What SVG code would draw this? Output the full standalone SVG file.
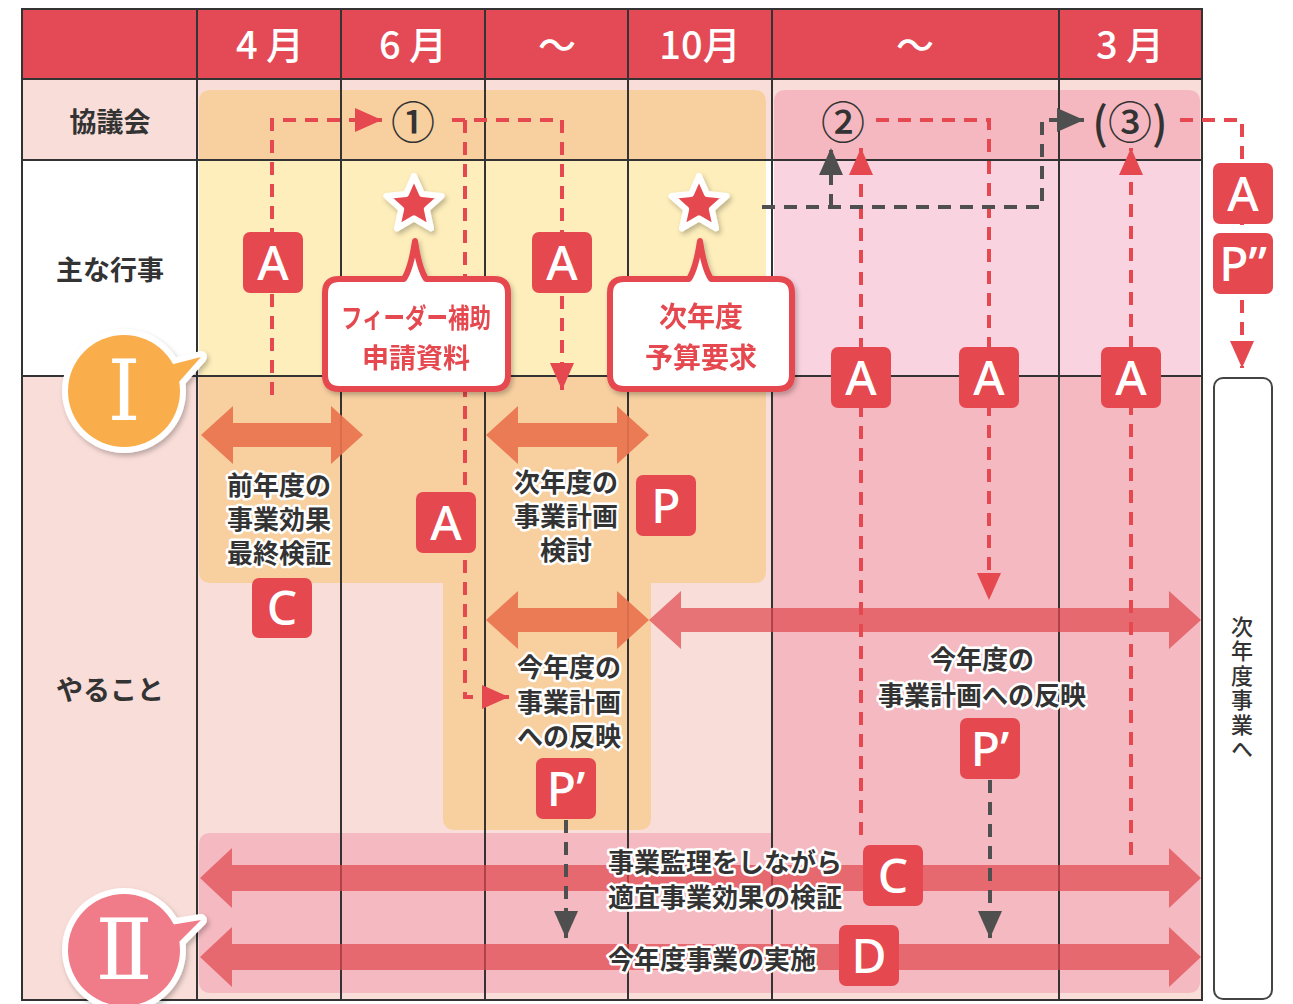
<svg xmlns="http://www.w3.org/2000/svg" width="1293" height="1004" viewBox="0 0 1293 1004">
<defs>
<style>
.hd{font-family:"Noto Sans CJK JP",sans-serif;font-weight:500;font-size:38px;fill:#fff;text-anchor:middle;dominant-baseline:central}
.rl{font-family:"Noto Sans CJK JP",sans-serif;font-weight:700;font-size:27px;fill:#333;text-anchor:middle;dominant-baseline:central}
.num{font-family:"Noto Sans CJK JP",sans-serif;font-weight:500;font-size:44px;fill:#333;text-anchor:middle;dominant-baseline:central}
.ht{font-family:"Noto Sans CJK JP",sans-serif;font-weight:700;font-size:26px;fill:#333;stroke:#fff;stroke-width:5;paint-order:stroke;stroke-linejoin:round;text-anchor:middle;dominant-baseline:central}
.ct{font-family:"Noto Sans CJK JP",sans-serif;font-weight:700;font-size:27px;fill:#e5484f;text-anchor:middle;dominant-baseline:central}
.lb{fill:#e5484f}
.lt{font-family:"Noto Sans",sans-serif;font-weight:500;font-size:48px;fill:#fff;text-anchor:middle}
.grid{stroke:#333;stroke-width:2;fill:none}
.dr{stroke:#e5484f;stroke-width:4;stroke-dasharray:13 9;fill:none}
.dg{stroke:#4f4f4f;stroke-width:4;stroke-dasharray:13 9;fill:none}
.oa{fill:#e8734e;opacity:0.92}
.ra{fill:#e04a50;opacity:0.72}
.co{fill:#fff;stroke:#e5484f;stroke-width:6;stroke-linejoin:round}
.vt{font-family:"Noto Sans CJK JP",sans-serif;font-weight:500;font-size:22px;fill:#333;text-anchor:middle;writing-mode:vertical-rl;letter-spacing:2.5px}
.rom{font-family:"DejaVu Serif","Liberation Serif",serif;font-size:84px;fill:#fff;text-anchor:middle;dominant-baseline:central}
</style>
<marker id="mr" markerUnits="userSpaceOnUse" viewBox="0 0 27 24" markerWidth="27" markerHeight="24" refX="27" refY="12" orient="auto"><path d="M0,0 L27,12 L0,24 Z" fill="#e5484f"/></marker>
<marker id="mg" markerUnits="userSpaceOnUse" viewBox="0 0 27 24" markerWidth="27" markerHeight="24" refX="27" refY="12" orient="auto"><path d="M0,0 L27,12 L0,24 Z" fill="#4f4f4f"/></marker>
<filter id="sh" x="-20%" y="-20%" width="150%" height="150%"><feDropShadow dx="2" dy="3" stdDeviation="2.5" flood-color="#000" flood-opacity="0.25"/></filter>
<path id="star" d="M0,-29 L8,-11 L27.6,-9 L12.8,4.2 L17,23.4 L0,13.4 L-17,23.4 L-12.8,4.2 L-27.6,-9 L-8,-11 Z"/>
</defs>

<g id="backgrounds">
<rect x="0" y="0" width="1293" height="1004" fill="#fff"/>
<rect x="22" y="9" width="1180" height="70" fill="#e44a55"/>
<rect x="22" y="79" width="1180" height="81" fill="#f9ddd8"/>
<rect x="22" y="160" width="1180" height="216" fill="#fff"/>
<rect x="22" y="376" width="1180" height="624" fill="#f9ddd8"/>
</g>

<g id="region-1">
<path d="M199,160 V102 Q199,90 211,90 H754 Q766,90 766,102 V160 Z" fill="#f8d0a0"/>
<rect x="199" y="160" width="567" height="216" fill="#fdeebb"/>
<path d="M199,376 H766 V571 Q766,583 754,583 H651 V818 Q651,830 639,830 H455 Q443,830 443,818 V583 H211 Q199,583 199,571 Z" fill="#f8d0a0"/>
</g>
<g id="region-2">
<path d="M774,160 V102 Q774,90 786,90 H1188 Q1200,90 1200,102 V160 Z" fill="#f5b8c0"/>
<rect x="774" y="160" width="426" height="216" fill="#f9d4e0"/>
<path d="M772,376 H1200 V981 Q1200,993 1188,993 H211 Q199,993 199,981 V845 Q199,833 211,833 H772 Z" fill="#f5b9c1"/>
</g>

<g id="grid">
<rect class="grid" x="22" y="9" width="1180" height="991"/>
<path class="grid" d="M22,79 H1202 M22,160 H1202 M22,376 H1202 M197,9 V1000 M341,9 V1000 M485,9 V1000 M628,9 V1000 M772,9 V1000 M1059,9 V1000"/>
</g>

<g id="header">
<text class="rl" x="110" y="120">協議会</text>
<text class="rl" x="110" y="268">主な行事</text>
<text class="rl" x="110" y="688">やること</text>
<text class="hd" x="270" y="42">4 月</text>
<text class="hd" x="413" y="42">6 月</text>
<text class="hd" x="557" y="42">～</text>
<text class="hd" x="700" y="42">10月</text>
<text class="hd" x="915" y="42">～</text>
<text class="hd" x="1130" y="42">3 月</text>
</g>

<g id="double-arrows">
<path class="oa" d="M201,435 L233,406 V423 H331 V406 L363,435 L331,464 V447 H233 V464 Z"/>
<path class="oa" d="M486,435 L518,406 V423 H617 V406 L649,435 L617,464 V447 H518 V464 Z"/>
<path class="oa" d="M486,620 L518,591 V608 H617 V591 L649,620 L617,649 V632 H518 V649 Z"/>
<path class="ra" d="M649,620 L681,591 V608 H1169 V591 L1201,620 L1169,649 V632 H681 V649 Z"/>
<path class="ra" d="M200,878 L232,848 V865 H1169 V848 L1201,878 L1169,908 V891 H232 V908 Z"/>
<path class="ra" d="M200,957 L232,927 V944 H1169 V927 L1201,957 L1169,987 V970 H232 V987 Z"/>
</g>

<g id="meetings">
<text class="num" x="413" y="120">①</text>
<text class="num" x="843" y="120">②</text>
<text class="num" x="1130" y="120">(③)</text>
</g>

<g id="connectors">
<path class="dr" d="M272,395 V120 H382" marker-end="url(#mr)"/>
<path class="dr" d="M452,120 H562 V390" marker-end="url(#mr)"/>
<path class="dr" d="M465,120 V697 H509" marker-end="url(#mr)"/>
<path class="dr" d="M876,120 H989 V600" marker-end="url(#mr)"/>
<path class="dr" d="M861,835 V148" marker-end="url(#mr)"/>
<path class="dr" d="M1131,855 V148" marker-end="url(#mr)"/>
<path class="dr" d="M1180,120 H1242 V368" marker-end="url(#mr)"/>
<path class="dg" d="M762,207 H1042 V120 H1084" marker-end="url(#mg)"/>
<path class="dg" d="M831,207 V148" marker-end="url(#mg)"/>
<path class="dg" d="M566,820 V938" marker-end="url(#mg)"/>
<path class="dg" d="M990,780 V938" marker-end="url(#mg)"/>
</g>

<g id="texts">
<text class="ht" x="279" y="483">前年度の</text>
<text class="ht" x="279" y="517">事業効果</text>
<text class="ht" x="279" y="551">最終検証</text>
<text class="ht" x="566" y="480">次年度の</text>
<text class="ht" x="566" y="514">事業計画</text>
<text class="ht" x="566" y="548">検討</text>
<text class="ht" x="569" y="665">今年度の</text>
<text class="ht" x="569" y="700">事業計画</text>
<text class="ht" x="569" y="734">への反映</text>
<text class="ht" x="982" y="657">今年度の</text>
<text class="ht" x="982" y="693">事業計画への反映</text>
<text class="ht" x="725" y="860">事業監理をしながら</text>
<text class="ht" x="725" y="895">適宜事業効果の検証</text>
<text class="ht" x="712" y="957">今年度事業の実施</text>
</g>

<g id="letter-boxes">
<g id="lb-a1"><rect class="lb" x="243" y="232" width="60" height="61" rx="7"/><text class="lt" x="273" y="280">A</text></g>
<g id="lb-a2"><rect class="lb" x="532" y="232" width="60" height="61" rx="7"/><text class="lt" x="562" y="280">A</text></g>
<g id="lb-a3"><rect class="lb" x="416" y="492" width="60" height="61" rx="7"/><text class="lt" x="446" y="540">A</text></g>
<g id="lb-p"><rect class="lb" x="636" y="475" width="60" height="61" rx="7"/><text class="lt" x="666" y="523">P</text></g>
<g id="lb-c1"><rect class="lb" x="252" y="578" width="60" height="60" rx="7"/><text class="lt" x="282" y="625">C</text></g>
<g id="lb-p1"><rect class="lb" x="536" y="758" width="60" height="61" rx="7"/><text class="lt" x="566" y="806">P’</text></g>
<g id="lb-a4"><rect class="lb" x="831" y="347" width="60" height="61" rx="7"/><text class="lt" x="861" y="395">A</text></g>
<g id="lb-a5"><rect class="lb" x="959" y="347" width="60" height="61" rx="7"/><text class="lt" x="989" y="395">A</text></g>
<g id="lb-a6"><rect class="lb" x="1101" y="347" width="60" height="61" rx="7"/><text class="lt" x="1131" y="395">A</text></g>
<g id="lb-p2"><rect class="lb" x="960" y="718" width="60" height="61" rx="7"/><text class="lt" x="990" y="766">P’</text></g>
<g id="lb-c2"><rect class="lb" x="863" y="845" width="60" height="61" rx="7"/><text class="lt" x="893" y="893">C</text></g>
<g id="lb-d"><rect class="lb" x="839" y="925" width="60" height="61" rx="7"/><text class="lt" x="869" y="973">D</text></g>
<g id="lb-a7"><rect class="lb" x="1213" y="163" width="60" height="61" rx="7"/><text class="lt" x="1243" y="211">A</text></g>
<g id="lb-p3"><rect class="lb" x="1213" y="233" width="60" height="61" rx="7"/><text class="lt" x="1243" y="281">P”</text></g>
</g>

<g id="stars" filter="url(#sh)">
<use href="#star" transform="translate(414,205)" fill="#e5484f" stroke="#fff" stroke-width="6" stroke-linejoin="round"/>
<use href="#star" transform="translate(699,205)" fill="#e5484f" stroke="#fff" stroke-width="6" stroke-linejoin="round"/>
</g>

<g id="callout-1" filter="url(#sh)">
<path class="co" d="M339,279 H404 Q411,268 415,241 Q419,268 426,279 H494 Q508,279 508,293 V375 Q508,389 494,389 H339 Q325,389 325,375 V293 Q325,279 339,279 Z"/>
<text class="ct" x="416" y="316" textLength="150" lengthAdjust="spacingAndGlyphs">フィーダー補助</text>
<text class="ct" x="416" y="356">申請資料</text>
</g>
<g id="callout-2" filter="url(#sh)">
<path class="co" d="M624,279 H689 Q696,268 700,241 Q704,268 711,279 H778 Q792,279 792,293 V375 Q792,389 778,389 H624 Q610,389 610,375 V293 Q610,279 624,279 Z"/>
<text class="ct" x="701" y="315" style="font-size:28px">次年度</text>
<text class="ct" x="701" y="356" style="font-size:28px">予算要求</text>
</g>

<g id="next-year">
<rect x="1214" y="378" width="58" height="621" rx="9" fill="#fff" stroke="#444" stroke-width="2"/>
<text class="vt" x="1242" y="689">次年度事業へ</text>
</g>

<g id="badge-1" filter="url(#sh)">
<path d="M158,368 L201,357 L170,392 Z" fill="#fff" stroke="#fff" stroke-width="12" stroke-linejoin="round"/>
<circle cx="124" cy="391" r="62" fill="#fff"/>
<circle cx="124" cy="391" r="56" fill="#f9ae4b"/>
<path d="M158,368 L201,357 L170,392 Z" fill="#f9ae4b"/>
<text class="rom" x="124" y="391">Ⅰ</text>
</g>
<g id="badge-2" filter="url(#sh)">
<path d="M158,927 L201,920 L170,951 Z" fill="#fff" stroke="#fff" stroke-width="12" stroke-linejoin="round"/>
<circle cx="124" cy="950" r="62" fill="#fff"/>
<circle cx="124" cy="950" r="56" fill="#f07b8a"/>
<path d="M158,927 L201,920 L170,951 Z" fill="#f07b8a"/>
<text class="rom" x="124" y="950">Ⅱ</text>
</g>
</svg>
